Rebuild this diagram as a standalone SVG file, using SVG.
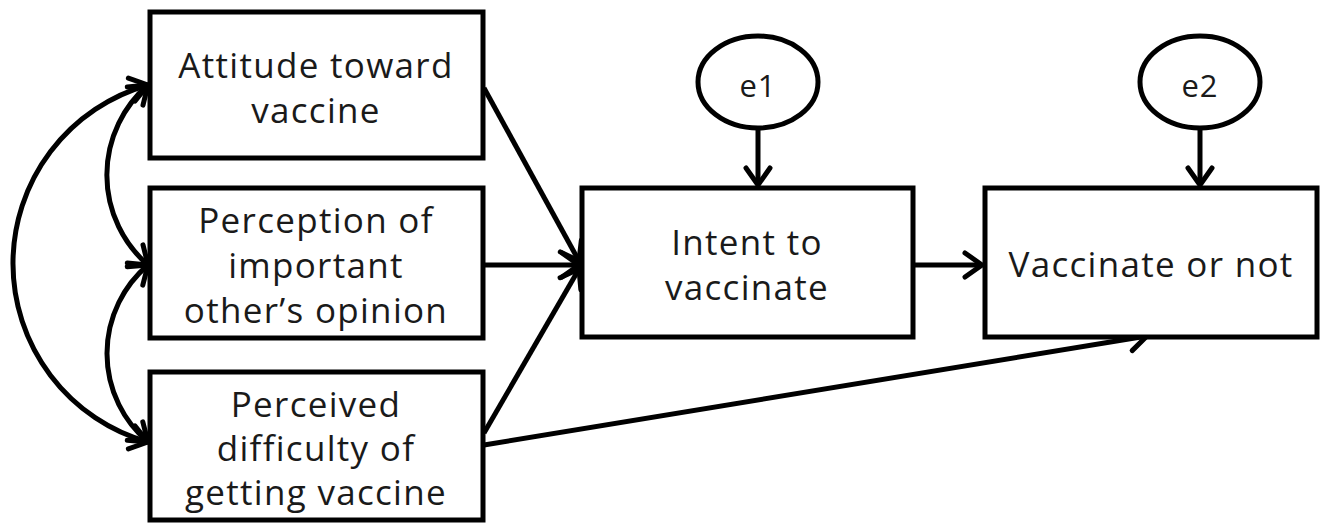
<svg xmlns="http://www.w3.org/2000/svg" width="1327" height="525" viewBox="0 0 1327 525">
<style>
.box{fill:#fff;stroke:#000;stroke-width:5}
.ell{fill:#fff;stroke:#000;stroke-width:5}
.t{font-family:"Open Sans","Liberation Sans",sans-serif;font-size:35px;letter-spacing:1.3px;fill:#1a1a1a;text-anchor:middle}
.te{font-family:"Open Sans","Liberation Sans",sans-serif;font-size:31px;letter-spacing:1px;fill:#1a1a1a;text-anchor:middle}
.c{fill:none;stroke:#000;stroke-width:5}
</style>
<defs>
<marker id="ah" markerUnits="userSpaceOnUse" markerWidth="44" markerHeight="44" viewBox="-22 -22 44 44" refX="0" refY="0" orient="auto-start-reverse">
<path d="M-17,-12 L0,0 L-17,12" fill="none" stroke="#000" stroke-width="5" stroke-linecap="round" stroke-linejoin="round"/>
</marker>
</defs>
<rect width="1327" height="525" fill="#fff"/>
<g id="connectors">
<path class="c" d="M148,85 A185.5,185.5 0 0 0 148,442" marker-start="url(#ah)" marker-end="url(#ah)"/>
<path class="c" d="M148,85 A119,119 0 0 0 148,265" marker-start="url(#ah)" marker-end="url(#ah)"/>
<path class="c" d="M148,265 A116,116 0 0 0 148,442" marker-start="url(#ah)" marker-end="url(#ah)"/>
<line class="c" x1="484" y1="88" x2="579" y2="261" marker-end="url(#ah)"/>
<line class="c" x1="484" y1="265" x2="579" y2="265" marker-end="url(#ah)"/>
<line class="c" x1="484" y1="433" x2="579" y2="269" marker-end="url(#ah)"/>
<line class="c" x1="484" y1="445" x2="1147" y2="336" marker-end="url(#ah)"/>
<line class="c" x1="915" y1="265" x2="982" y2="265" marker-end="url(#ah)"/>
<line class="c" x1="758" y1="128" x2="758" y2="185" marker-end="url(#ah)"/>
<line class="c" x1="1200" y1="128" x2="1200" y2="185" marker-end="url(#ah)"/>
</g>
<g id="attitude">
<rect class="box" x="150" y="12" width="333" height="146"/>
<text class="t" x="316" y="78">Attitude toward</text>
<text class="t" x="316" y="123">vaccine</text>
</g>
<g id="perception">
<rect class="box" x="150" y="188" width="333" height="150"/>
<text class="t" x="316" y="233">Perception of</text>
<text class="t" x="316" y="278">important</text>
<text class="t" x="316" y="323">other’s opinion</text>
</g>
<g id="perceived">
<rect class="box" x="150" y="372" width="333" height="148"/>
<text class="t" x="316" y="417">Perceived</text>
<text class="t" x="316" y="461">difficulty of</text>
<text class="t" x="316" y="505">getting vaccine</text>
</g>
<g id="intent">
<rect class="box" x="582" y="188" width="331" height="149"/>
<text class="t" x="747" y="255">Intent to</text>
<text class="t" x="747" y="300">vaccinate</text>
</g>
<g id="vaccinate">
<rect class="box" x="985" y="188" width="332" height="149"/>
<text class="t" x="1151" y="277">Vaccinate or not</text>
</g>
<g id="e1">
<ellipse class="ell" cx="758" cy="82" rx="60" ry="46"/>
<text class="te" x="758" y="97">e1</text>
</g>
<g id="e2">
<ellipse class="ell" cx="1200" cy="82" rx="60" ry="46"/>
<text class="te" x="1200" y="97">e2</text>
</g>
</svg>
